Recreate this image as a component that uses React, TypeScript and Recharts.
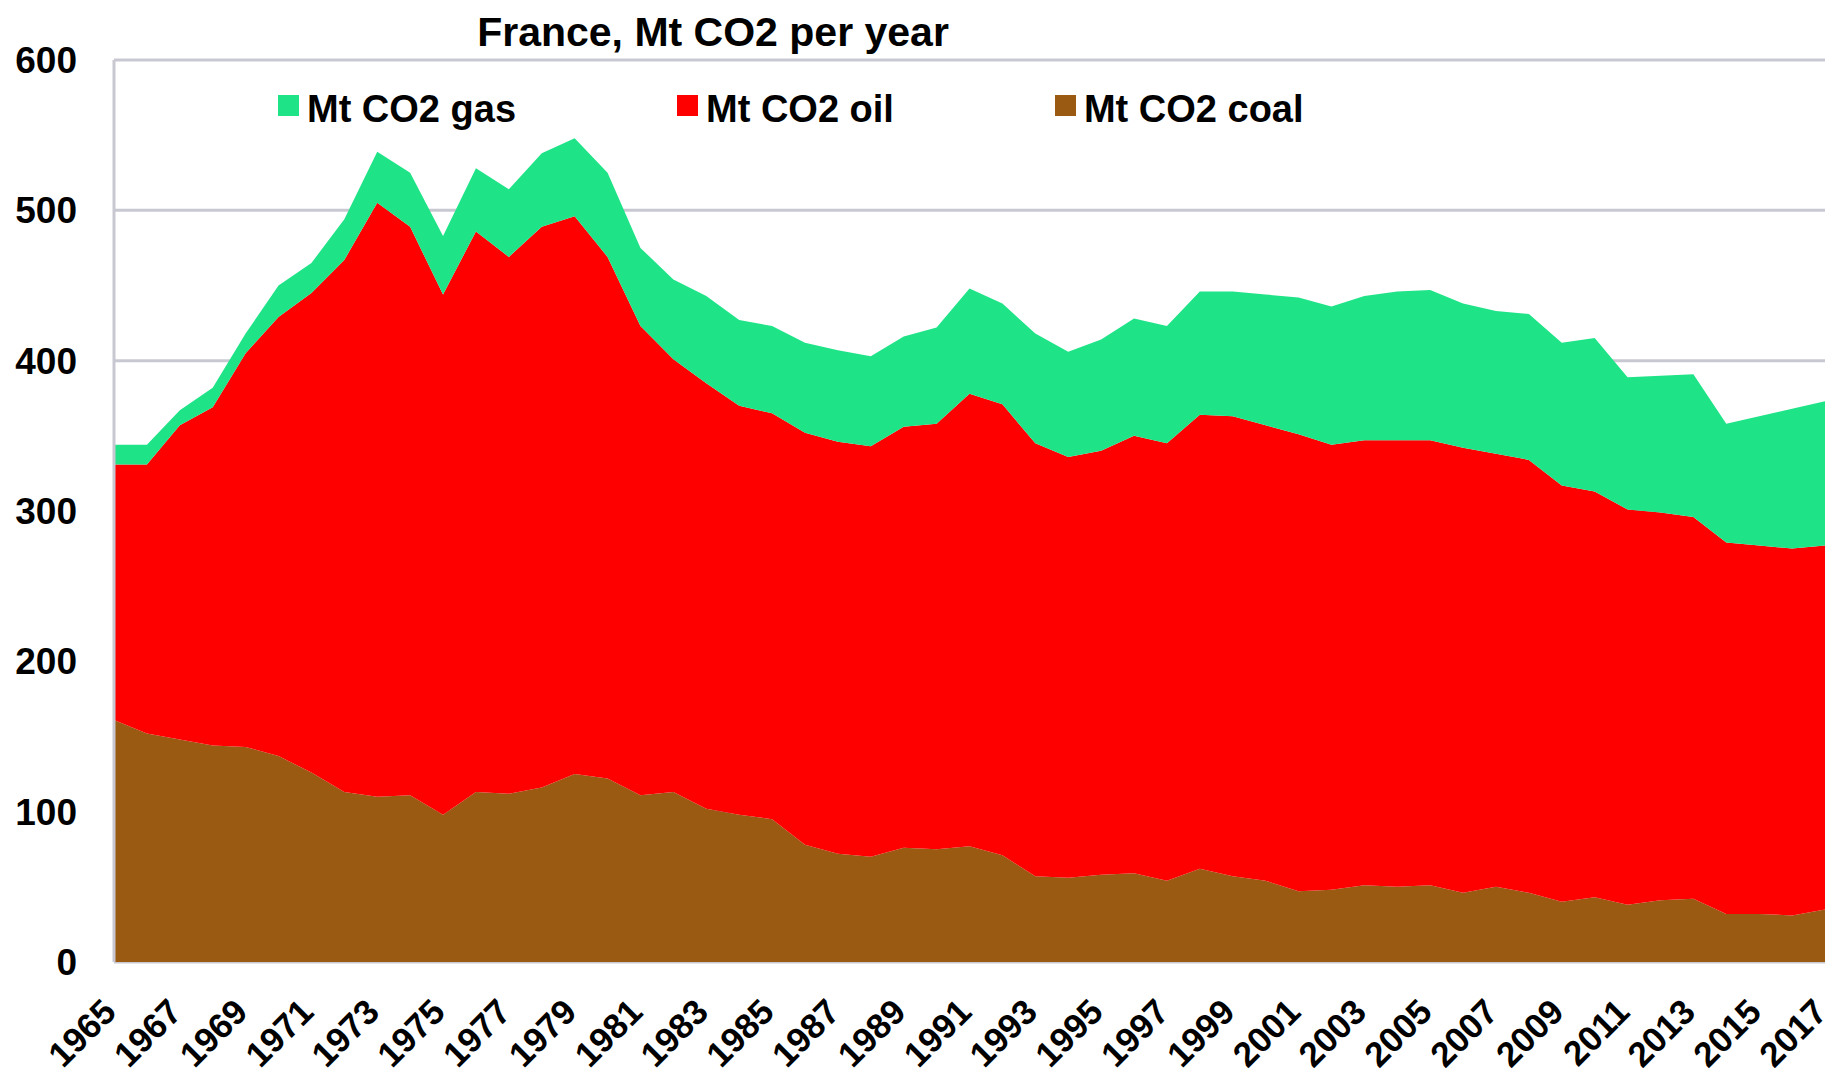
import React from "react";
import { AreaChart, Area, XAxis, YAxis, CartesianGrid, Legend } from "recharts";

const years = [
  "1965", "1966", "1967", "1968", "1969", "1970", "1971", "1972", "1973", "1974",
  "1975", "1976", "1977", "1978", "1979", "1980", "1981", "1982", "1983", "1984",
  "1985", "1986", "1987", "1988", "1989", "1990", "1991", "1992", "1993", "1994",
  "1995", "1996", "1997", "1998", "1999", "2000", "2001", "2002", "2003", "2004",
  "2005", "2006", "2007", "2008", "2009", "2010", "2011", "2012", "2013", "2014",
  "2015", "2016", "2017",
];

const coal = [
  161, 152, 148, 144, 143, 137, 126, 113, 110, 111,
  98, 113, 112, 116, 125, 122, 111, 113, 102, 98,
  95, 78, 72, 70, 76, 75, 77, 71, 57, 56,
  58, 59, 54, 62, 57, 54, 47, 48, 51, 50,
  51, 46, 50, 46, 40, 43, 38, 41, 42, 32,
  32, 31, 35,
];

const oil = [
  170, 179, 209, 225, 262, 292, 319, 354, 395, 378,
  346, 373, 357, 373, 371, 347, 312, 288, 283, 272,
  270, 274, 274, 273, 280, 283, 301, 300, 288, 280,
  282, 291, 291, 302, 306, 303, 304, 296, 296, 297,
  296, 296, 288, 288, 277, 270, 263, 258, 254, 247,
  245, 244, 242,
];

const gas = [
  13, 13, 10, 13, 13, 21, 20, 27, 34, 36,
  39, 42, 45, 49, 52, 56, 52, 53, 58, 57,
  58, 60, 61, 60, 60, 64, 70, 67, 73, 70,
  74, 78, 78, 82, 83, 87, 91, 92, 96, 99,
  100, 96, 95, 97, 95, 102, 88, 91, 95, 79,
  86, 93, 96,
];

const yTicks = [0, 100, 200, 300, 400, 500, 600];

const title = "France, Mt CO2 per year";

const legendItems = [
  { key: "gas", label: "Mt CO2 gas", color: "#1fe387" },
  { key: "oil", label: "Mt CO2 oil", color: "#ff0000" },
  { key: "coal", label: "Mt CO2 coal", color: "#9a5a12" },
];

const COLORS: Record<string, string> = {
  gas: "#1fe387",
  oil: "#ff0000",
  coal: "#9a5a12",
};

const data = years.map((year, i) => ({
  year,
  coal: coal[i],
  oil: oil[i],
  gas: gas[i],
}));

const FONT = "'Liberation Sans', Arial, sans-serif";

const XTick = (props: any) => {
  const { x, y, payload } = props;
  const ax = x + 4;
  const ay = y + 52;
  return (
    <text
      x={ax}
      y={ay}
      transform={`rotate(-45 ${ax} ${ay})`}
      textAnchor="end"
      fontFamily={FONT}
      fontWeight="bold"
      fontSize={35}
      fill="#000"
    >
      {payload.value}
    </text>
  );
};

const LegendContent = () => (
  <div style={{ display: "flex", gap: 161, fontFamily: FONT, fontWeight: "bold", fontSize: 38, lineHeight: "38px", color: "#000" }}>
    {legendItems.map((it) => (
      <div key={it.key} style={{ display: "flex", alignItems: "flex-start" }}>
        <div style={{ width: 21, height: 21, marginTop: 5, marginRight: 8, background: it.color }} />
        <span style={{ whiteSpace: "nowrap" }}>{it.label}</span>
      </div>
    ))}
  </div>
);

export default function App() {
  return (
    <div style={{ position: "absolute", left: 0, top: 0, width: 1839, height: 1084, background: "#fff" }}>
      <div
        style={{
          position: "absolute",
          left: 0,
          top: 12,
          width: 1426,
          textAlign: "center",
          fontFamily: FONT,
          fontWeight: "bold",
          fontSize: 41,
          lineHeight: "41px",
          color: "#000",
          whiteSpace: "nowrap",
        }}
      >
        {title}
      </div>
      <AreaChart
        width={1839}
        height={1084}
        data={data}
        margin={{ top: 60, right: 14, bottom: 0, left: 0 }}
      >
        <CartesianGrid vertical={false} stroke="#c8c8d2" strokeWidth={3} />
        <XAxis
          dataKey="year"
          height={122}
          interval={1}
          axisLine={false}
          tickLine={false}
          tickSize={0}
          tickMargin={0}
          tick={<XTick />}
        />
        <YAxis
          width={114}
          domain={[0, 600]}
          ticks={yTicks}
          axisLine={{ stroke: "#c8c8d2", strokeWidth: 3 }}
          tickLine={false}
          tickSize={0}
          tickMargin={37}
          tick={{ fontFamily: FONT, fontWeight: "bold", fontSize: 37, fill: "#000" }}
        />
        <Legend
          layout="horizontal"
          verticalAlign="middle"
          align="center"
          content={<LegendContent />}
          wrapperStyle={{ position: "absolute", top: 90, left: 278, width: "auto" }}
        />
        <Area type="linear" dataKey="coal" stackId="1" stroke="none" fill={COLORS.coal} fillOpacity={1} isAnimationActive={false} />
        <Area type="linear" dataKey="oil" stackId="1" stroke="none" fill={COLORS.oil} fillOpacity={1} isAnimationActive={false} />
        <Area type="linear" dataKey="gas" stackId="1" stroke="none" fill={COLORS.gas} fillOpacity={1} isAnimationActive={false} />
      </AreaChart>
    </div>
  );
}
